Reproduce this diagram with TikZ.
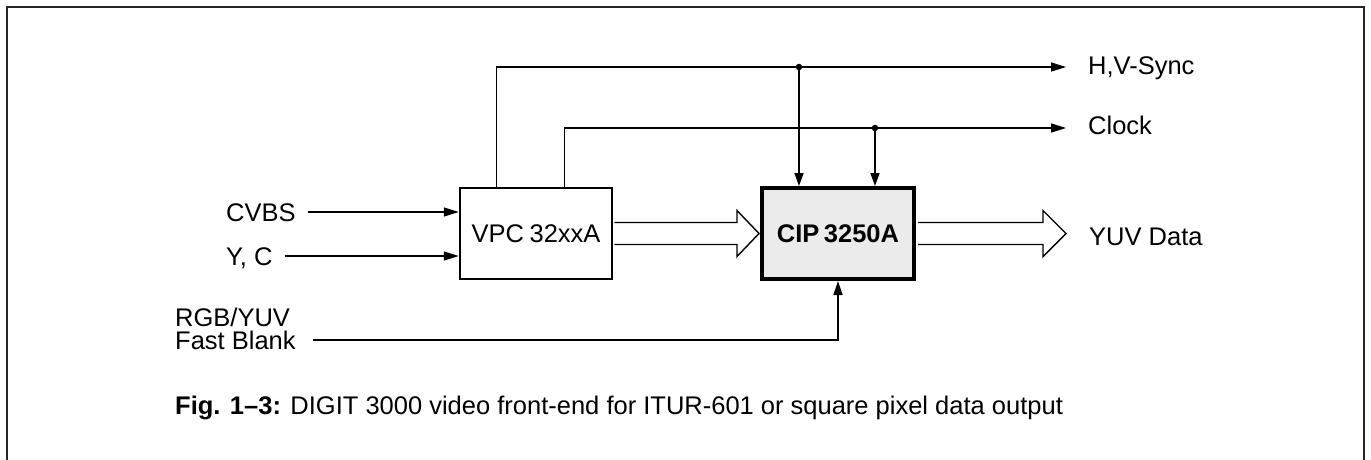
\documentclass[tikz,border=0pt]{standalone}
\usepackage{fontspec}
\setmainfont{Liberation Sans}
\usetikzlibrary{calc,arrows.meta}
\begin{document}
\begin{tikzpicture}[x=1pt,y=-1pt,
  font=\fontsize{25.5}{30}\selectfont,
  sig/.style={line width=1.4pt},
  tip/.style={-{Triangle[length=15pt,width=9pt]}},
  lbl/.style={inner sep=0pt, anchor=west, text height=18.3pt, text depth=0pt},
  blockbox/.style={draw, minimum width=152pt, minimum height=91pt, inner sep=0pt},
  bus/.style={line width=1.4pt, fill=white, line join=miter},
  dot/.style={circle, fill=black, inner sep=0pt, minimum size=6.5pt}]
\useasboundingbox (0,0) rectangle (1371,459);
% frame
\draw[line width=2pt, black!85] (6.5,470) -- (6.5,6.5) -- (1363.5,6.5) -- (1363.5,470);

% blocks
\node[blockbox, line width=2.5pt] (vpc) at (536,233.5) {VPC\hspace{0.22em}32xxA};
\node[blockbox, line width=4pt, fill=black!8] (cip) at (838,233.5) {\bfseries CIP\hspace{0.18em}3250A};

% labels
\node[lbl] (cvbs) at (226,212) {CVBS};
\node[lbl] (yc) at (226,256) {Y, C};
\node[lbl] (rgb) at (175,317) {RGB/YUV};
\node[lbl] (fb) at (175,340) {Fast Blank};
\node[lbl] (hv) at (1088,65.5) {H,V-Sync};
\node[lbl] (clk) at (1088,125.5) {Clock};
\node[lbl] (yuv) at (1089,236) {YUV Data};
\node[inner sep=0pt, anchor=base west] (cap) at (175,414)
  {\textbf{Fig. 1--3:} DIGIT 3000 video front-end for ITUR-601 or square pixel data output};

% line end points
\coordinate (hvend) at (1066,67);
\coordinate (ckend) at (1066,128);
\coordinate (yuvtip) at (1066,233.5);

% inputs
\draw[sig,tip] ([xshift=12pt]cvbs.east) -- (vpc.west |- cvbs.east);
\draw[sig,tip] ([xshift=12pt]yc.east) -- (vpc.west |- yc.east);

% sync and clock
\coordinate (sy) at ($(vpc.north west)+(38,0)$);
\coordinate (ck) at ($(vpc.north west)+(106,0)$);
\coordinate (syd) at ($(cip.north west)+(39,0)$);
\coordinate (ckd) at ($(cip.north west)+(115,0)$);
\draw[sig,tip] (sy) |- (hvend);
\draw[sig,tip] (ck) |- (ckend);
\node[dot] (d1) at (syd |- hvend) {};
\node[dot] (d2) at (ckd |- ckend) {};
\draw[sig,-{Triangle[length=13pt,width=9pt]}] (d1) -- (syd);
\draw[sig,-{Triangle[length=13pt,width=9pt]}] (d2) -- (ckd);

% fast blank
\draw[sig,-{Triangle[length=14pt,width=9pt]}] ([xshift=17pt]fb.east) -| (cip.south);

% buses
\draw[bus] ($(vpc.east)+(1,-11)$) -- ($(cip.west)+(-23,-11)$) -- ($(cip.west)+(-23,-23)$)
  -- ($(cip.west)+(-1,0)$) -- ($(cip.west)+(-23,23)$) -- ($(cip.west)+(-23,11)$) -- ($(vpc.east)+(1,11)$);
\draw[bus] ($(cip.east)+(2,-11)$) -- ($(yuvtip)+(-23,-11)$) -- ($(yuvtip)+(-23,-23)$)
  -- (yuvtip) -- ($(yuvtip)+(-23,23)$) -- ($(yuvtip)+(-23,11)$) -- ($(cip.east)+(2,11)$);
\end{tikzpicture}
\end{document}
